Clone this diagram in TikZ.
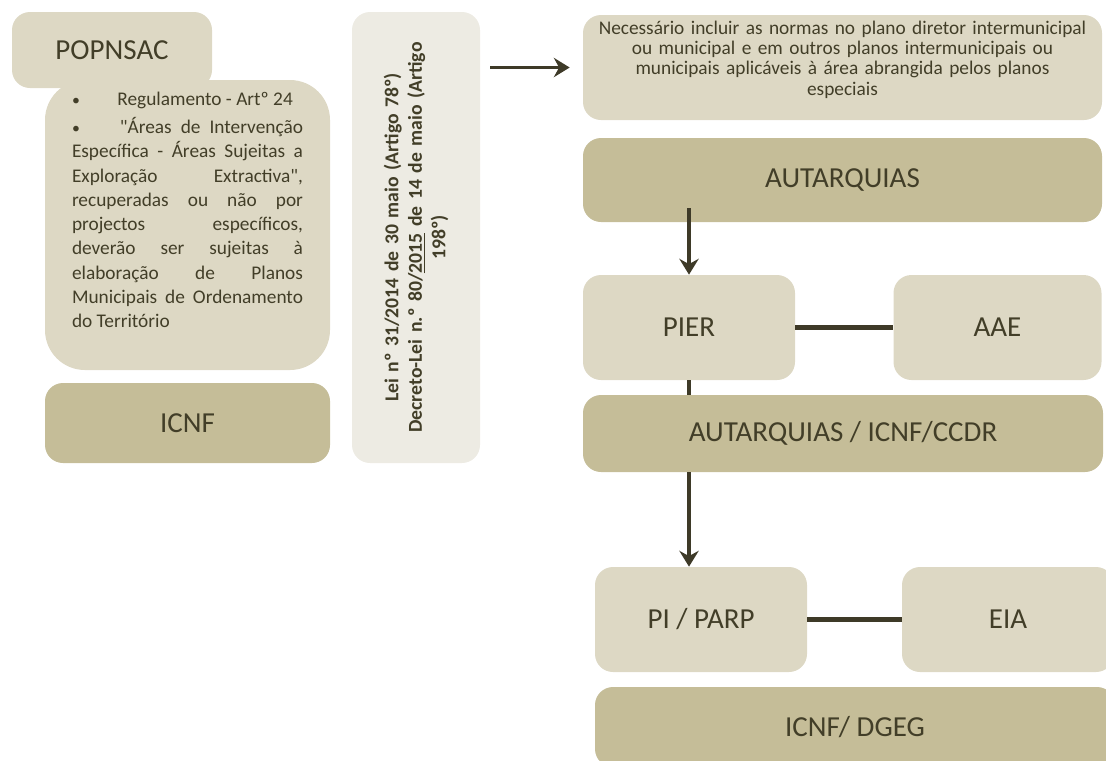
\documentclass[tikz,border=0pt]{standalone}
\usepackage{fontspec}
\setmainfont{Carlito}
\usetikzlibrary{arrows.meta,positioning}
\definecolor{tanlight}{RGB}{221,216,196}
\definecolor{tandark}{RGB}{197,189,152}
\definecolor{tanpale}{RGB}{237,235,227}
\definecolor{olivetext}{RGB}{66,62,40}
\definecolor{olivearrow}{RGB}{62,58,40}

\begin{document}
\begin{tikzpicture}[
  box/.style={rectangle, rounded corners=0.36cm, inner sep=0pt, text=olivetext, font=\fontsize{16.5}{19}\selectfont},
  lightbox/.style={box, fill=tanlight},
  darkbox/.style={box, fill=tandark},
  palebox/.style={box, fill=tanpale},
  nohyph/.style={execute at begin node={\hyphenpenalty=10000\exhyphenpenalty=10000}},
  arr/.style={-{Stealth[length=9pt,width=11pt,inset=3pt]}, line width=1.8pt, draw=olivearrow},
  link/.style={line width=2.6pt, draw=olivearrow}
]
	%%%%% START %%%%%
	\useasboundingbox (0,0) rectangle (22.12,-15.2);

	% left column
	\node[lightbox, nohyph, minimum width=4cm, minimum height=1.52cm] (popnsac) at (2.24,-1.0) {POPNSAC};
	\node[lightbox, nohyph, rounded corners=0.8cm, minimum width=5.7cm, minimum height=5.8cm, text width=4.62cm, align=justify, font=\fontsize{11}{13.8}\selectfont] (regul) at (3.75,-4.5) {%
		{\small\textbullet}\hspace{0.75cm}Regulamento - Artº 24\par\vspace{2pt}
		{\small\textbullet}\hspace{0.8cm}\textquotedbl Áreas de Intervenção\linebreak
		Específica - Áreas Sujeitas a\linebreak
		Exploração Extractiva\textquotedbl,\linebreak
		recuperadas ou não por\linebreak
		projectos específicos,\linebreak
		deverão ser sujeitas à\linebreak
		elaboração de Planos\linebreak
		Municipais de Ordenamento\linebreak
		do Território\par\vspace{0.6cm}};
	\node[darkbox, minimum width=5.7cm, minimum height=1.6cm] (icnf) at (3.75,-8.46) {ICNF};

	% legislation
	\node[palebox, rotate=90, minimum width=9.02cm, minimum height=2.56cm, text width=8.6cm, align=center, font=\fontsize{11.2}{13.4}\selectfont\bfseries] (lei) at (8.32,-4.75) {Lei nº 31/2014 de 30 maio (Artigo 78º)\\Decreto-Lei n.º 80/\underline{2015} de 14 de maio (Artigo\\198º)};

	% right column
	\node[lightbox, minimum width=10.38cm, minimum height=2.1cm, text width=10.2cm, align=center, font=\fontsize{11}{11.6}\selectfont] (nec) at (16.85,-1.35) {Necessário incluir as normas no plano diretor intermunicipal\\ou municipal e em outros planos intermunicipais ou\\municipais aplicáveis à área abrangida pelos planos\\especiais\par\vspace{0.32cm}};
	\node[darkbox, minimum width=10.38cm, minimum height=1.68cm] (aut) at (16.85,-3.6) {AUTARQUIAS};
	\node[lightbox, minimum width=4.24cm, minimum height=2.1cm] (pier) at (13.78,-6.55) {PIER};
	\node[lightbox, minimum width=4.16cm, minimum height=2.1cm] (aae) at (19.95,-6.55) {AAE};
	\node[darkbox, minimum width=10.4cm, minimum height=1.54cm] (aic) at (16.86,-8.67) {AUTARQUIAS / ICNF/CCDR};
	\node[lightbox, minimum width=4.24cm, minimum height=2.1cm] (pi) at (14.02,-12.39) {PI / PARP};
	\node[lightbox, minimum width=4.24cm, minimum height=2.1cm] (eia) at (20.16,-12.39) {EIA};
	\node[darkbox, minimum width=10.4cm, minimum height=1.6cm] (dgeg) at (17.1,-14.54) {ICNF/ DGEG};

	% connectors
	\draw[arr, shorten <=0.2cm, shorten >=0.26cm] (lei.south |- nec.west) -- (nec.west);
	\draw[arr] ([yshift=0.28cm]aut.south -| pier.north) -- (pier.north);
	\draw[link] (pier) -- (aae);
	\draw[arr, -] (pier.south) -- (pier.south |- aic.north);
	\draw[arr] (aic.south -| pier.south) -- (pier.south |- pi.north);
	\draw[link] (pi) -- (eia);
	%%%%% END %%%%%
\end{tikzpicture}
\end{document}
